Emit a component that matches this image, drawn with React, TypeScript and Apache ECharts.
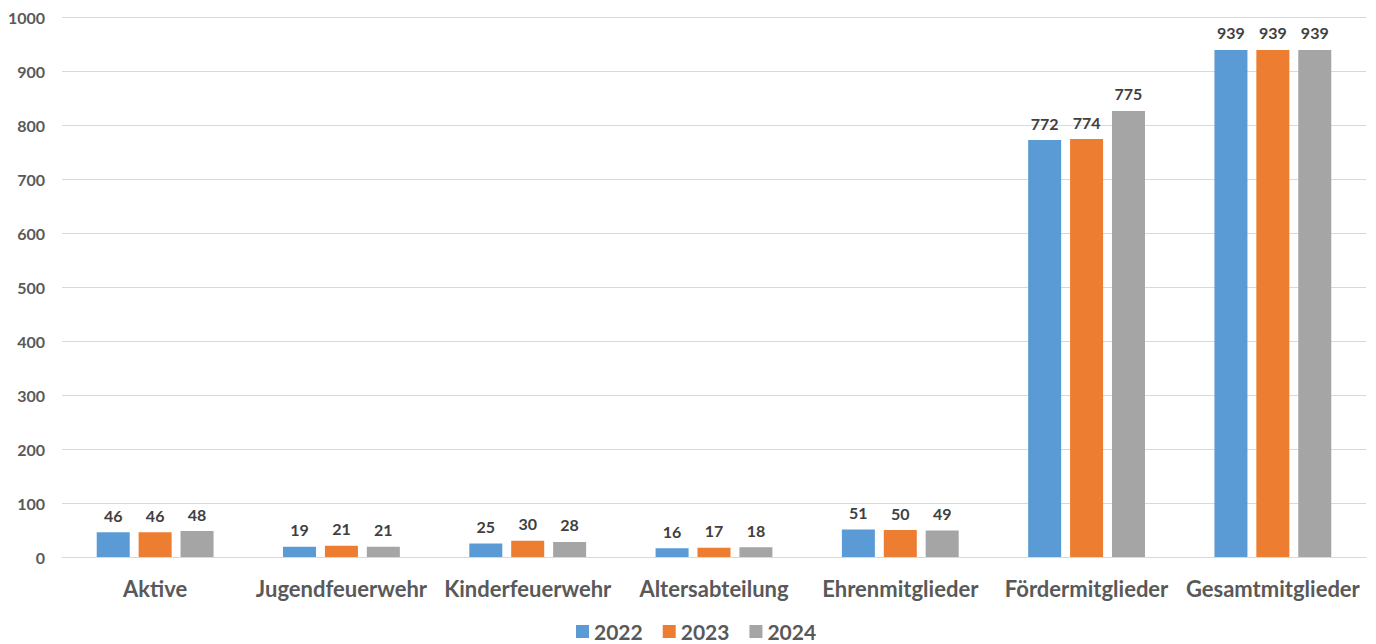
import React, { useEffect, useRef } from "react";
import * as echarts from "echarts";

const categories = [
  "Aktive",
  "Jugendfeuerwehr",
  "Kinderfeuerwehr",
  "Altersabteilung",
  "Ehrenmitglieder",
  "Fördermitglieder",
  "Gesamtmitglieder",
];
const years = ["2022", "2023", "2024"];

// bar heights as drawn in the picture
const values2022 = [46, 19, 25, 16, 51, 772, 939];
const values2023 = [46, 21, 30, 17, 50, 774, 939];
const values2024 = [48, 19, 28, 18, 49, 826, 939];

// value labels as printed in the picture
const labels2022 = [46, 19, 25, 16, 51, 772, 939];
const labels2023 = [46, 21, 30, 17, 50, 774, 939];
const labels2024 = [48, 21, 28, 18, 49, 775, 939];

const colors = ["#5b9bd5", "#ed7d31", "#a5a5a5"];
const FONT = "Lato, 'Open Sans', sans-serif";

export default function App() {
  const ref = useRef<HTMLDivElement>(null);
  useEffect(() => {
    if (!ref.current) return;
    const chart = echarts.init(ref.current, undefined, { renderer: "svg" });
    const valueSets = [values2022, values2023, values2024];
    const labelSets = [labels2022, labels2023, labels2024];
    chart.setOption({
      animation: false,
      textStyle: { fontFamily: FONT },
      grid: { left: 62, right: 10, top: 17, bottom: 87, containLabel: false },
      legend: {
        top: 621,
        left: 576,
        padding: 0,
        itemWidth: 13,
        itemHeight: 13,
        itemGap: 20,
        icon: "rect",
        textStyle: { fontSize: 21, fontWeight: "bold", color: "#595959", fontFamily: FONT },
        data: years,
      },
      xAxis: {
        type: "category",
        data: categories,
        axisLine: { lineStyle: { color: "#d9d9d9", width: 1 } },
        axisTick: { show: false },
        axisLabel: {
          fontSize: 22,
          fontWeight: "bold",
          color: "#595959",
          margin: 20,
          interval: 0,
          fontFamily: FONT,
        },
      },
      yAxis: {
        type: "value",
        min: 0,
        max: 1000,
        interval: 100,
        axisLine: { show: false },
        axisTick: { show: false },
        splitLine: { lineStyle: { color: "#d9d9d9", width: 1 } },
        axisLabel: {
          fontSize: 16,
          fontWeight: "bold",
          color: "#595959",
          margin: 17,
          fontFamily: FONT,
          formatter: (v: number) => String(v),
        },
      },
      series: years.map((y, i) => ({
        name: y,
        type: "bar",
        data: valueSets[i],
        barWidth: 33,
        barGap: "27%",
        itemStyle: { color: colors[i] },
        label: {
          show: true,
          position: "top",
          distance: 9,
          fontSize: 16,
          fontWeight: "bold",
          color: "#404040",
          fontFamily: FONT,
          formatter: (p: any) => String(labelSets[i][p.dataIndex]),
        },
      })),
    });
    return () => chart.dispose();
  }, []);
  return <div ref={ref} style={{ width: 1376, height: 644, position: "absolute", left: 0, top: 0 }} />;
}
